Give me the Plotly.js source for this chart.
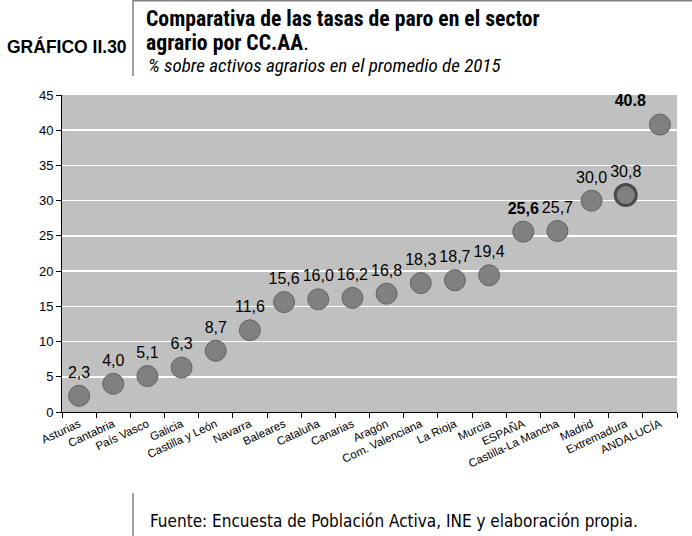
<!DOCTYPE html>
<html><head><meta charset="utf-8">
<script src="https://cdn.plot.ly/plotly-3.0.1.min.js"></script>
<style>body{margin:0;padding:0;background:#fff}#chart{width:692px;height:536px}</style>
</head><body><div id="chart"></div>
<script>
const regions = ["Asturias","Cantabria","País Vasco","Galicia","Castilla y León","Navarra","Baleares","Cataluña","Canarias","Aragón","Com. Valenciana","La Rioja","Murcia","ESPAÑA","Castilla-La Mancha","Madrid","Extremadura","ANDALUCÍA"];
const rates = [2.3,4.0,5.1,6.3,8.7,11.6,15.6,16.0,16.2,16.8,18.3,18.7,19.4,25.6,25.7,30.0,30.8,40.8];
const labels = ["2,3","4,0","5,1","6,3","8,7","11,6","15,6","16,0","16,2","16,8","18,3","18,7","19,4","<b>25,6</b>","25,7","30,0","30,8","<b>40.8</b>"];
const yTicks = [0,5,10,15,20,25,30,35,40,45];

const textPos = regions.map((r,i)=> i===regions.length-1 ? "top left" : "top center");
const lineW = regions.map((r,i)=> r==="Extremadura" ? 3 : 1);
const lineC = regions.map((r,i)=> r==="Extremadura" ? "#4a4a4a" : "#626262");

const trace = {
  type:"scatter", mode:"markers+text",
  x: regions, y: rates, text: labels,
  textposition: textPos,
  textfont:{family:"Liberation Sans, Arial, sans-serif", size:16, color:"#000"},
  marker:{size:21, color:"#808080", line:{color:lineC, width:lineW}},
  cliponaxis:false, hoverinfo:"skip"
};

const PL=62, PR=677, PT=95, PB=412;
const px = x => (x-PL)/(PR-PL);
const py = y => (PB-y)/(PB-PT);

const layout = {
  width:692, height:536,
  margin:{l:PL, r:692-PR, t:PT, b:536-PB},
  paper_bgcolor:"#ffffff", plot_bgcolor:"#c0c0c0",
  showlegend:false,
  font:{family:"Liberation Sans, Arial, sans-serif", color:"#000"},
  xaxis:{
    type:"category", tickangle:-25,
    tickfont:{size:11.5}, showgrid:false,
    showline:true, linecolor:"#000", linewidth:1,
    ticks:"outside", ticklen:5, tickcolor:"#000",
    tickson:"boundaries", range:[-0.5,17.5], automargin:false
  },
  yaxis:{
    range:[0,45], tickvals:yTicks, ticktext:yTicks.map(String),
    tickfont:{size:13}, gridcolor:"#ffffff", gridwidth:1.5,
    showline:true, linecolor:"#000", linewidth:1,
    ticks:"outside", ticklen:5, tickcolor:"#000", zeroline:false, automargin:false
  },
  shapes:[
    {type:"line", xref:"paper", yref:"paper", x0:px(133), x1:px(133), y0:py(0), y1:py(76), line:{color:"#808080", width:1.5}},
    {type:"line", xref:"paper", yref:"paper", x0:px(133), x1:px(692), y0:py(0.8), y1:py(0.8), line:{color:"#808080", width:1.5}},
    {type:"line", xref:"paper", yref:"paper", x0:px(133), x1:px(133), y0:py(493), y1:py(536), line:{color:"#808080", width:1.5}}
  ],
  annotations:[
    {xref:"paper", yref:"paper", x:px(144), y:py(18.5), xanchor:"left", yanchor:"middle", showarrow:false,
     text:"<b>Comparativa de las tasas de paro en el sector</b>",
     font:{family:"Roboto Condensed, sans-serif", size:21.7, color:"#000"}},
    {xref:"paper", yref:"paper", x:px(144), y:py(42.5), xanchor:"left", yanchor:"middle", showarrow:false,
     text:"<b>agrario por CC.AA</b>.",
     font:{family:"Roboto Condensed, sans-serif", size:21.7, color:"#000"}},
    {xref:"paper", yref:"paper", x:px(5), y:py(46), xanchor:"left", yanchor:"middle", showarrow:false,
     text:"<b>GRÁFICO II.30</b>", font:{family:"Liberation Sans, Arial, sans-serif", size:17.5, color:"#000"}},
    {xref:"paper", yref:"paper", x:px(146), y:py(65.5), xanchor:"left", yanchor:"middle", showarrow:false,
     text:"<i>% sobre activos agrarios en el promedio de 2015</i>", font:{family:"Roboto Condensed, sans-serif", size:19, color:"#000"}},
    {xref:"paper", yref:"paper", x:px(148), y:py(521), xanchor:"left", yanchor:"middle", showarrow:false,
     text:"Fuente: Encuesta de Población Activa, INE y elaboración propia.", font:{family:"DejaVu Sans Condensed, DejaVu Sans, sans-serif", size:17, color:"#000"}}
  ]
};
Plotly.newPlot("chart",[trace],layout,{staticPlot:true, displayModeBar:false});
</script></body></html>
